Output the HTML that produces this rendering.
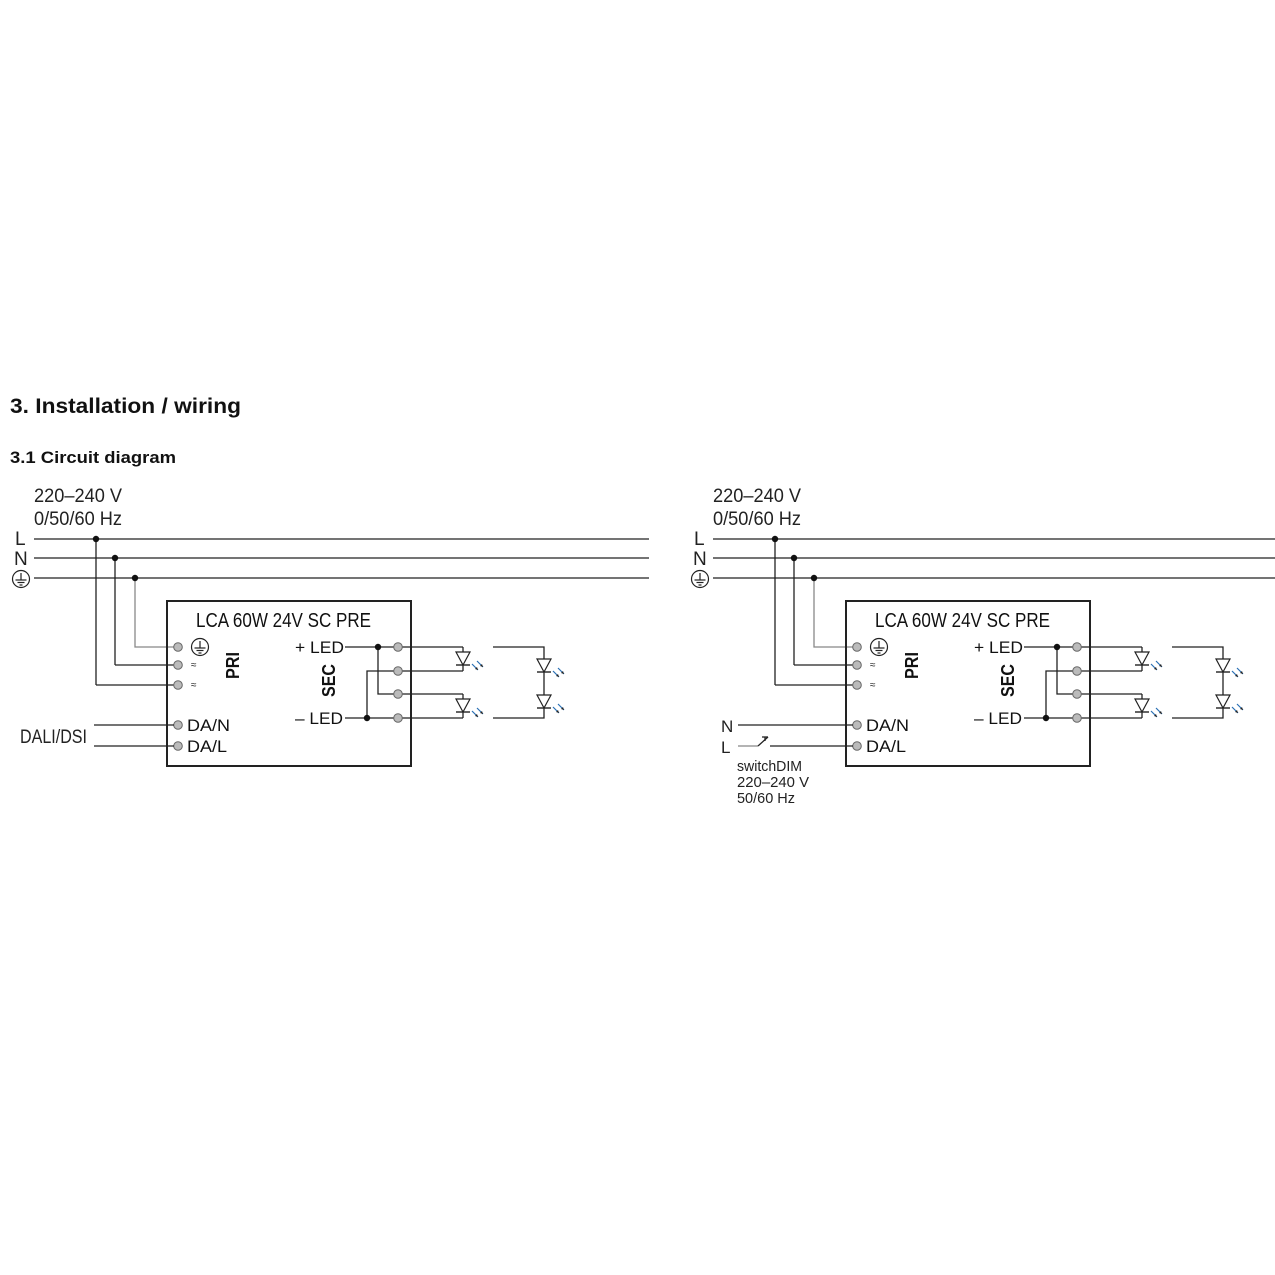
<!DOCTYPE html>
<html><head><meta charset="utf-8"><style>
html,body{margin:0;padding:0;background:#fff;}
svg{display:block;font-family:"Liberation Sans",sans-serif;}
</style></head><body>
<svg width="1275" height="1275" viewBox="0 0 1275 1275" xmlns="http://www.w3.org/2000/svg">
<defs>
<g id="diode">
<polygon points="-7,0 7,0 0,13" fill="#fff" stroke="#222" stroke-width="1.2"/>
<line x1="-7" y1="13" x2="7" y2="13" stroke="#222" stroke-width="1.4"/>
<g stroke="#2a6fb5" stroke-width="1.2"><line x1="9" y1="12" x2="15" y2="18"/><line x1="14" y1="9" x2="20" y2="15"/></g>
<polygon points="15,18 12,17 14,15" fill="#222"/><polygon points="20,15 17,14 19,12" fill="#222"/>
</g>
<g id="earth">
<circle r="8.5" fill="#fff" stroke="#222" stroke-width="1.2"/>
<line x1="0" y1="-6" x2="0" y2="1" stroke="#222" stroke-width="1.2"/>
<line x1="-5.5" y1="1" x2="5.5" y2="1" stroke="#222" stroke-width="1.2"/>
<line x1="-3.5" y1="3.5" x2="3.5" y2="3.5" stroke="#222" stroke-width="1.2"/>
<line x1="-1.5" y1="6" x2="1.5" y2="6" stroke="#222" stroke-width="1.2"/>
</g>
<g id="term"><circle r="4.3" fill="#bbb" stroke="#666" stroke-width="1"/></g>
<g id="dia">
<g fill="none" stroke="#222" stroke-width="1.3">
<line x1="96" y1="539" x2="96" y2="685"/><line x1="96" y1="685" x2="174" y2="685"/>
<line x1="115" y1="558" x2="115" y2="665"/><line x1="115" y1="665" x2="174" y2="665"/>
<polyline points="135,578 135,647 174,647" stroke="#888"/>
<rect x="167" y="601" width="244" height="165" stroke-width="2"/>
<line x1="345" y1="647" x2="463" y2="647"/>
<line x1="345" y1="718" x2="463" y2="718"/>
<polyline points="378,647 378,694 463,694"/>
<polyline points="367,718 367,671 463,671"/>
<line x1="463" y1="647" x2="463" y2="671"/>
<line x1="463" y1="694" x2="463" y2="718"/>
<polyline points="493,647 544,647 544,718 493,718"/>
</g>
<circle cx="96" cy="539" r="3.2" fill="#111"/><circle cx="115" cy="558" r="3.2" fill="#111"/><circle cx="135" cy="578" r="3.2" fill="#111"/>
<circle cx="378" cy="647" r="3.2" fill="#111"/><circle cx="367" cy="718" r="3.2" fill="#111"/>
<use href="#term" x="178" y="647"/><use href="#term" x="178" y="665"/><use href="#term" x="178" y="685"/>
<use href="#term" x="178" y="725"/><use href="#term" x="178" y="746"/>
<use href="#term" x="398" y="647"/><use href="#term" x="398" y="671"/><use href="#term" x="398" y="694"/><use href="#term" x="398" y="718"/>
<use href="#earth" x="200" y="647"/>
<use href="#diode" x="463" y="652"/><use href="#diode" x="463" y="699"/>
<use href="#diode" x="544" y="659"/><use href="#diode" x="544" y="695"/>
<text x="34" y="502" font-size="19" fill="#222" textLength="88" lengthAdjust="spacingAndGlyphs">220–240 V</text>
<text x="34" y="525" font-size="19" fill="#222" textLength="88" lengthAdjust="spacingAndGlyphs">0/50/60 Hz</text>
<text x="15" y="545" font-size="19" fill="#222">L</text>
<text x="14" y="565" font-size="19" fill="#222">N</text>
<use href="#earth" x="21" y="579"/>
<text x="196" y="627" font-size="20" fill="#111" textLength="175" lengthAdjust="spacingAndGlyphs">LCA 60W 24V SC PRE</text>
<text x="191" y="668" font-size="10" fill="#222">≈</text>
<text x="191" y="688" font-size="10" fill="#222">≈</text>
<text transform="translate(239,679) rotate(-90)" font-size="18" font-weight="bold" fill="#111" textLength="27" lengthAdjust="spacingAndGlyphs">PRI</text>
<text transform="translate(335,697) rotate(-90)" font-size="18" font-weight="bold" fill="#111" textLength="33" lengthAdjust="spacingAndGlyphs">SEC</text>
<text x="295" y="653" font-size="17" fill="#111" textLength="49" lengthAdjust="spacingAndGlyphs">+ LED</text>
<text x="295" y="724" font-size="17" fill="#111" textLength="48" lengthAdjust="spacingAndGlyphs">– LED</text>
<text x="187" y="731" font-size="17" fill="#111" textLength="43" lengthAdjust="spacingAndGlyphs">DA/N</text>
<text x="187" y="752" font-size="17" fill="#111" textLength="40" lengthAdjust="spacingAndGlyphs">DA/L</text>
</g>
</defs>
<text x="10" y="413" font-size="21" font-weight="bold" fill="#111" textLength="231" lengthAdjust="spacingAndGlyphs">3. Installation / wiring</text>
<text x="10" y="463" font-size="17" font-weight="bold" fill="#111" textLength="166" lengthAdjust="spacingAndGlyphs">3.1 Circuit diagram</text>

<g stroke="#222" stroke-width="1.3">
<line x1="34" y1="539" x2="649" y2="539"/><line x1="34" y1="558" x2="649" y2="558"/><line x1="34" y1="578" x2="649" y2="578"/>
<line x1="713" y1="539" x2="1275" y2="539"/><line x1="713" y1="558" x2="1275" y2="558"/><line x1="713" y1="578" x2="1275" y2="578"/>
</g>
<use href="#dia"/>
<use href="#dia" x="679"/>
<g stroke="#222" stroke-width="1.3">
<line x1="94" y1="725" x2="174" y2="725"/><line x1="94" y1="746" x2="174" y2="746"/>
<line x1="738" y1="725" x2="853" y2="725"/>
<line x1="738" y1="746" x2="758" y2="746" stroke="#888"/>
<line x1="758" y1="746" x2="768" y2="737"/><line x1="762" y1="737" x2="768" y2="737"/><line x1="765" y1="737" x2="765" y2="741"/>
<line x1="770" y1="746" x2="853" y2="746"/>
</g>
<text x="20" y="743" font-size="19" fill="#222" textLength="67" lengthAdjust="spacingAndGlyphs">DALI/DSI</text>
<text x="721" y="732" font-size="17" fill="#222">N</text>
<text x="721" y="753" font-size="17" fill="#222">L</text>
<text x="737" y="771" font-size="15" fill="#222" textLength="65" lengthAdjust="spacingAndGlyphs">switchDIM</text>
<text x="737" y="787" font-size="15" fill="#222" textLength="72" lengthAdjust="spacingAndGlyphs">220–240 V</text>
<text x="737" y="803" font-size="15" fill="#222" textLength="58" lengthAdjust="spacingAndGlyphs">50/60 Hz</text>
</svg>
</body></html>
